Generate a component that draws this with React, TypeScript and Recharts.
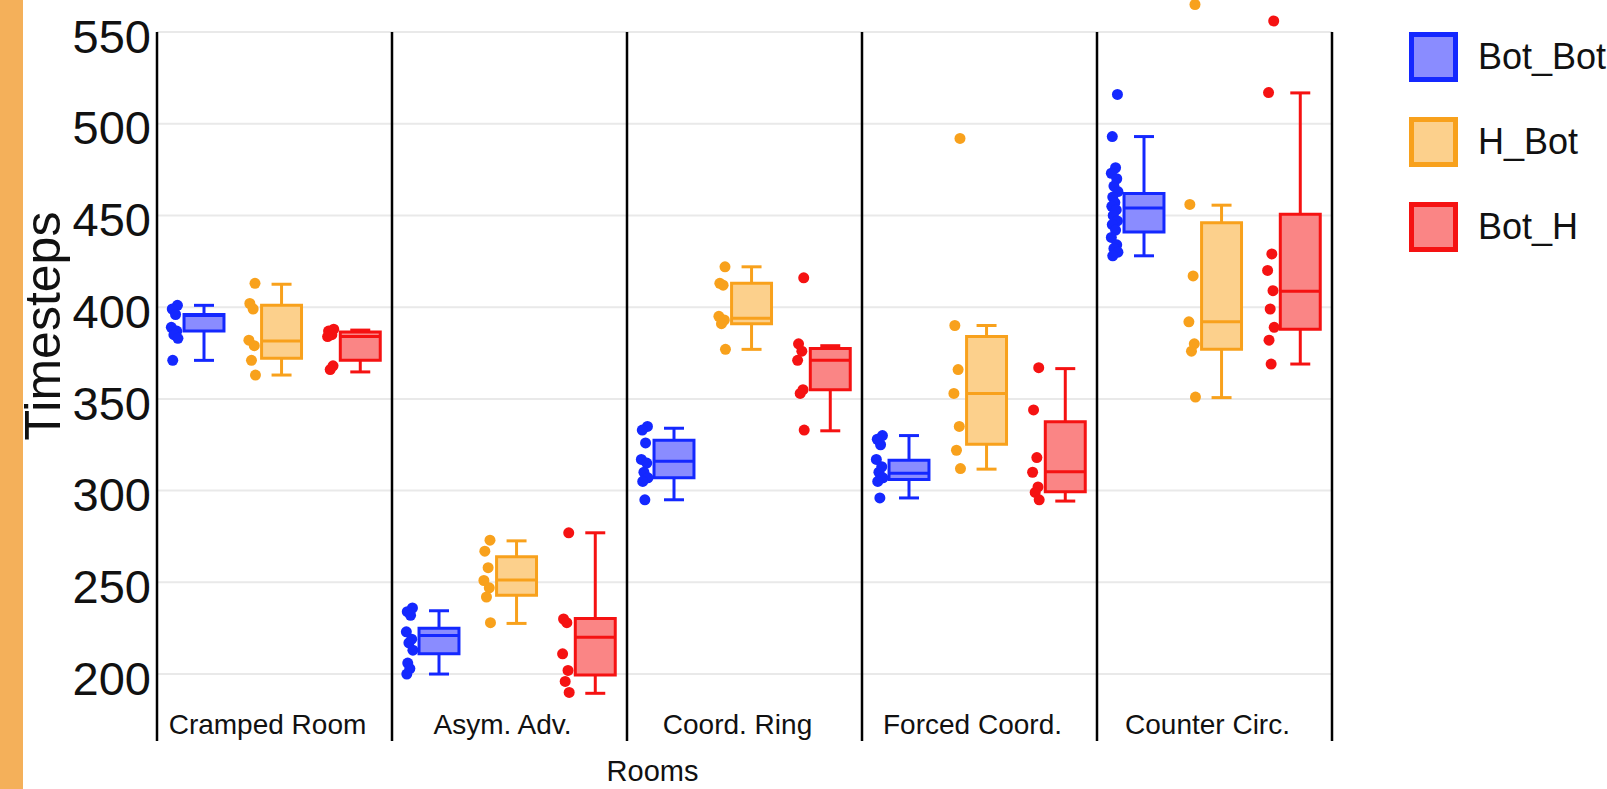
import React from "react";
import {
  ScatterChart,
  Scatter,
  XAxis,
  YAxis,
  CartesianGrid,
  ReferenceArea,
  ReferenceLine,
} from "recharts";

const rooms = ["Cramped Room", "Asym. Adv.", "Coord. Ring", "Forced Coord.", "Counter Circ."];
const yTicks = [200, 250, 300, 350, 400, 450, 500, 550];

// Bot_Bot
const botBotLo = [371, 200, 295, 296, 428];
const botBotQ1 = [387, 211, 307, 306, 441];
const botBotMed = [395.5, 221, 316, 309.5, 454];
const botBotQ3 = [396, 225, 327.5, 316.5, 462];
const botBotHi = [401, 234.5, 334, 330, 493];
const botBotPts = [
  [401, 399, 396, 389, 387, 385, 383, 371],
  [236, 234, 232, 223, 219, 217, 213, 206, 203, 200],
  [335, 333, 326, 317, 315, 310, 307, 305, 295],
  [330, 328, 325, 317, 313, 310, 307, 305, 296],
  [516, 493, 476, 473, 470, 466, 463, 460, 457, 455, 453, 450, 447, 445, 442, 438, 434, 432, 430, 428],
];

// H_Bot
const hBotLo = [363, 227.6, 377, 311.7, 350.7];
const hBotQ1 = [372.2, 243, 391, 325.3, 377];
const hBotMed = [381.6, 251.2, 394, 353, 392];
const hBotQ3 = [401, 264, 413, 384, 446];
const hBotHi = [412.5, 272.6, 422, 390, 455.6];
const hBotPts = [
  [413, 402, 399, 382, 379, 371, 363],
  [273, 267, 258, 251, 247, 242, 228],
  [422, 413, 412, 395, 393, 391, 377],
  [492, 390, 366, 353, 335, 322, 312],
  [565, 456, 417, 392, 380, 376, 351],
];

// Bot_H
const botHLo = [364.7, 189.5, 332.6, 294.3, 369];
const botHQ1 = [371, 199.5, 355, 299.4, 388];
const botHMed = [384, 220, 371, 310.3, 408.7];
const botHQ3 = [386.5, 230.3, 377.5, 337.5, 450.7];
const botHHi = [387.5, 277, 379, 366.5, 516.8];
const botHPts = [
  [388, 387, 385, 384, 368, 366],
  [277, 230, 228, 211, 202, 196, 190],
  [416, 380, 376, 371, 355, 353, 333],
  [367, 344, 318, 310, 302, 299, 295],
  [556, 517, 429, 420, 409, 399, 389, 382, 369],
];

const series = [
  { name: "Bot_Bot", color: "#1428ff", fill: "#8a8cff", lo: botBotLo, q1: botBotQ1, med: botBotMed, q3: botBotQ3, hi: botBotHi, pts: botBotPts },
  { name: "H_Bot", color: "#f8a11c", fill: "#fcd08c", lo: hBotLo, q1: hBotQ1, med: hBotMed, q3: hBotQ3, hi: hBotHi, pts: hBotPts },
  { name: "Bot_H", color: "#f51212", fill: "#fa8585", lo: botHLo, q1: botHQ1, med: botHMed, q3: botHQ3, hi: botHHi, pts: botHPts },
];

// layout inside each room slot (slot width = 1)
const boxPos = [0.2, 0.53, 0.865];
const half = 0.085;
const ptShift = -0.125;
const jitter = [0.012, -0.01, 0.004, -0.014, 0.009, -0.003, 0.014, -0.008, 0.001, -0.012, 0.007, -0.006];
const Y_MIN = 163.5;
const Y_MAX = 567.45;
const FONT = "'Liberation Sans', Arial, sans-serif";

function pointData(s, si) {
  return s.pts.flatMap((vals, ri) =>
    vals.map((v, k) => ({ x: ri + boxPos[si] + ptShift + jitter[k % jitter.length], y: v }))
  );
}

function RoomTick({ x, y, payload }) {
  return (
    <text x={x - 7} y={y - 7} textAnchor="middle" fontSize={28} fontFamily={FONT} fill="#111">
      {rooms[Math.floor(payload.value)]}
    </text>
  );
}

export default function App() {
  const boxes = [];
  series.forEach((s, si) => {
    rooms.forEach((_, ri) => {
      const cx = ri + boxPos[si];
      const seg = (x1, y1, x2, y2, key) => (
        <ReferenceLine
          key={`${key}-${si}-${ri}`}
          segment={[{ x: x1, y: y1 }, { x: x2, y: y2 }]}
          stroke={s.color}
          strokeWidth={3}
          ifOverflow="visible"
        />
      );
      boxes.push(seg(cx, s.q3[ri], cx, s.hi[ri], "wu"));
      boxes.push(seg(cx, s.q1[ri], cx, s.lo[ri], "wl"));
      boxes.push(seg(cx - half / 2, s.hi[ri], cx + half / 2, s.hi[ri], "cu"));
      boxes.push(seg(cx - half / 2, s.lo[ri], cx + half / 2, s.lo[ri], "cl"));
      boxes.push(
        <ReferenceArea
          key={`box-${si}-${ri}`}
          x1={cx - half}
          x2={cx + half}
          y1={s.q1[ri]}
          y2={s.q3[ri]}
          fill={s.fill}
          fillOpacity={1}
          stroke={s.color}
          strokeWidth={3}
          ifOverflow="visible"
        />
      );
      boxes.push(seg(cx - half, s.med[ri], cx + half, s.med[ri], "md"));
    });
  });

  return (
    <div style={{ position: "absolute", left: 0, top: 0, width: 1607, height: 789, background: "#fff", overflow: "hidden" }}>
      <div style={{ position: "absolute", left: 0, top: 0, width: 23, height: 789, background: "#f4b05a" }} />
      <ScatterChart width={1607} height={789} margin={{ top: 0, right: 275, bottom: 0, left: 0 }}>
        <CartesianGrid vertical={false} horizontalValues={yTicks} stroke="#e9e9e9" strokeWidth={2} />
        <XAxis
          type="number"
          dataKey="x"
          domain={[0, 5]}
          ticks={rooms.map((_, i) => i + 0.5)}
          allowDataOverflow
          axisLine={false}
          tickLine={false}
          tickSize={0}
          tickMargin={0}
          height={48}
          interval={0}
          tick={RoomTick}
          label={({ viewBox }) => (
            <text
              x={viewBox.x + viewBox.width / 2 - 92}
              y={viewBox.y + 40}
              textAnchor="middle"
              fontSize={29}
              fontFamily={FONT}
              fill="#111"
            >
              Rooms
            </text>
          )}
        />
        <YAxis
          type="number"
          dataKey="y"
          domain={[Y_MIN, Y_MAX]}
          ticks={yTicks}
          allowDataOverflow
          width={157}
          axisLine={false}
          tickLine={false}
          tickSize={0}
          tickMargin={6}
          tick={{ fontSize: 47, fill: "#111", fontFamily: FONT, dy: 4 }}
          label={() => (
            <text
              x={60}
              y={326}
              transform="rotate(-90 60 326)"
              textAnchor="middle"
              fontSize={50}
              fontFamily={FONT}
              fill="#111"
            >
              Timesteps
            </text>
          )}
        />
        {rooms.concat([""]).map((_, i) => (
          <ReferenceLine
            key={`sep-${i}`}
            segment={[{ x: i, y: 550 }, { x: i, y: Y_MIN }]}
            stroke="#000"
            strokeWidth={2.5}
            ifOverflow="visible"
          />
        ))}
        {boxes}
        {series.map((s, si) => (
          <Scatter
            key={s.name}
            name={s.name}
            data={pointData(s, si)}
            dataKey="y"
            fill={s.color}
            isAnimationActive={false}
            shape={(p) => <circle cx={p.cx} cy={p.cy} r={5.5} fill={s.color} />}
          />
        ))}
      </ScatterChart>
      <div style={{ position: "absolute", left: 1409, top: 32, fontFamily: FONT, fontSize: 36, color: "#111" }}>
        {series.map((s) => (
          <div key={s.name} style={{ display: "flex", alignItems: "center", height: 50, marginBottom: 35, whiteSpace: "nowrap" }}>
            <div style={{ width: 39, height: 40, border: `5px solid ${s.color}`, background: s.fill }} />
            <span style={{ marginLeft: 20 }}>{s.name}</span>
          </div>
        ))}
      </div>
    </div>
  );
}
